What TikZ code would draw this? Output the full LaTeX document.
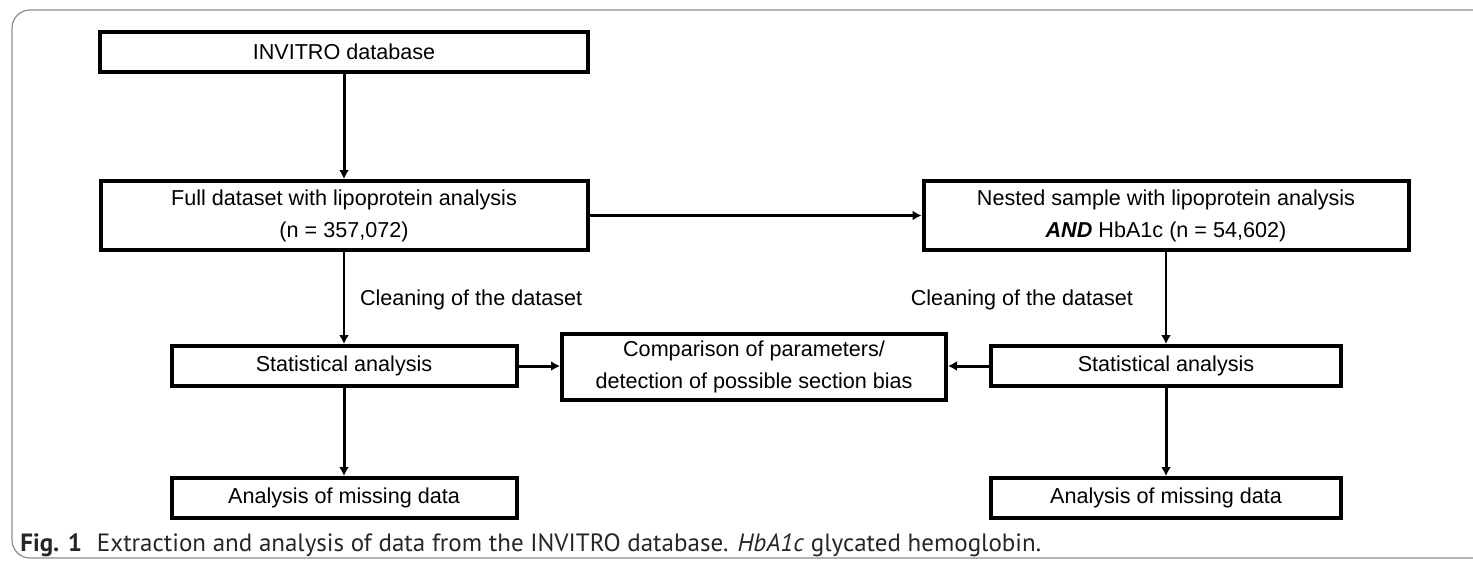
\documentclass[tikz,border=0pt]{standalone}
\usepackage{fontspec}
\setmainfont{Liberation Sans}
\newfontfamily\capfont{PT Sans}
\usepackage{xcolor}
\usetikzlibrary{arrows.meta}

\begin{document}
\begin{tikzpicture}[x=.5pt,y=-.5pt,font=\fontsize{10.8}{16}\selectfont,
    >={Latex[length=4.5pt,width=5pt]},
    box/.style={draw,line width=2pt,align=center,inner sep=0pt},
    bigarrow/.style={->,line width=1.5pt},
    smallarrow/.style={->,line width=1pt}]
    \useasboundingbox (0,0) rectangle (1473,564);
    \clip (0,0) rectangle (1473,564);
    \draw[black!45,line width=.6pt,rounded corners=9pt] (1520,10) -- (12,10) -- (12,558) -- (1520,558);
    \node[box,minimum width=244pt,minimum height=20pt] (db) at (344,52) {INVITRO database};
    \node[box,minimum width=243.5pt,minimum height=34.5pt] (full) at (344,215.5) {Full dataset with lipoprotein analysis\\(n = 357,072)};
    \node[box,minimum width=242.5pt,minimum height=34.5pt] (nested) at (1166,215.5) {Nested sample with lipoprotein analysis\\\textbf{\textit{AND}} HbA1c (n = 54,602)};
    \node[box,minimum width=172.5pt,minimum height=20pt] (statl) at (344,366) {Statistical analysis};
    \node[box,minimum width=192pt,minimum height=33pt] (comp) at (754,367) {Comparison of parameters/\\detection of possible section bias};
    \node[box,minimum width=175pt,minimum height=20pt] (statr) at (1166,366) {Statistical analysis};
    \node[box,minimum width=172.5pt,minimum height=20pt] (missl) at (344,498) {Analysis of missing data};
    \node[box,minimum width=175pt,minimum height=20pt] (missr) at (1166,498) {Analysis of missing data};
    \draw[bigarrow] (db) -- (full);
    \draw[bigarrow] (full) -- (nested);
    \draw[smallarrow] (full) -- (statl) node[midway,right=7.5pt,inner sep=0pt,yshift=-1pt] (cleanl) {Cleaning of the dataset};
    \draw[smallarrow] (nested) -- (statr) node[midway,left=16pt,inner sep=0pt,yshift=-1pt] (cleanr) {Cleaning of the dataset};
    \draw[bigarrow] (statl.east) -- (statl.east -| comp.west);
    \draw[bigarrow] (statr.west) -- (statr.west -| comp.east);
    \draw[bigarrow] (statl) -- (missl);
    \draw[bigarrow] (statr) -- (missr);
    \node[anchor=west,inner sep=0pt,text=black!85,font=\capfont\fontsize{12.5}{14}\selectfont] (cap) at (20,545) {\textbf{Fig. 1}\hspace{.6em}Extraction and analysis of data from the INVITRO database. \textit{HbA1c} glycated hemoglobin.};
  \end{tikzpicture}
\end{document}
